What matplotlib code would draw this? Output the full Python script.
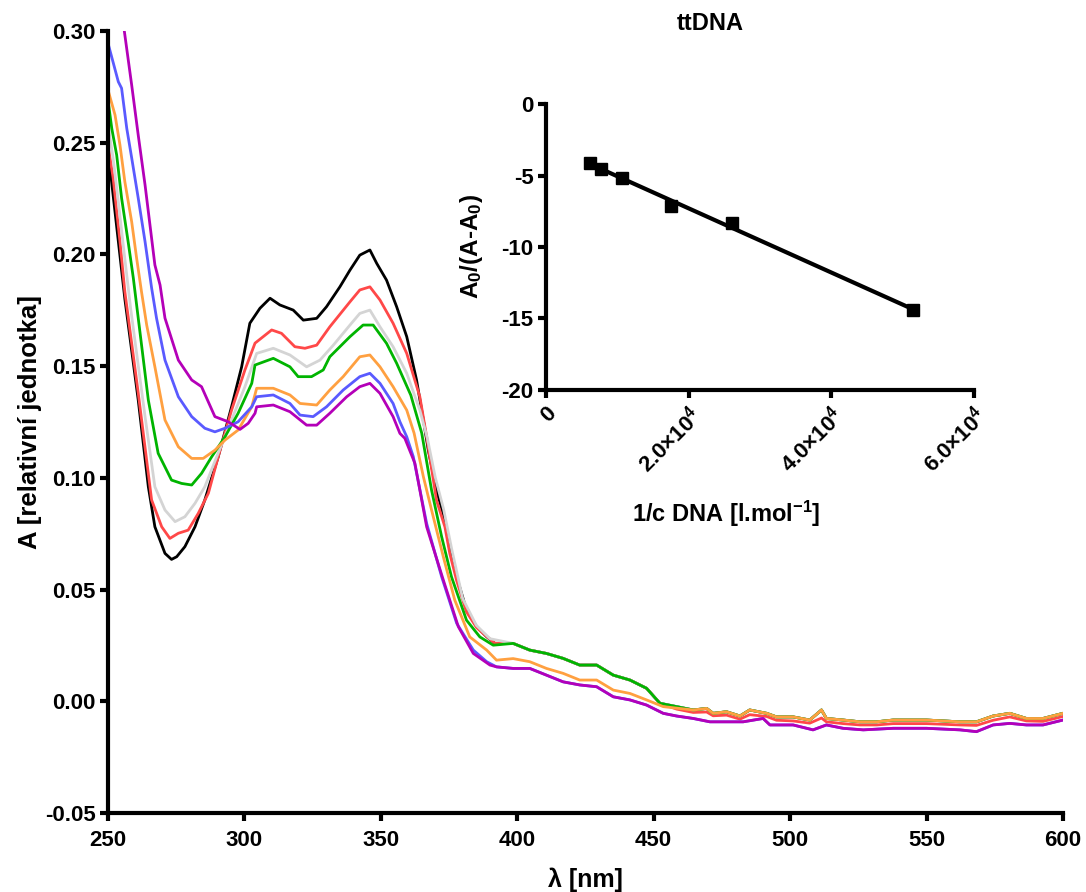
import numpy as np
import matplotlib
matplotlib.use("Agg")
import matplotlib.pyplot as plt

plt.rcParams['font.family'] = ['Liberation Sans', 'DejaVu Sans']
plt.rcParams['font.weight'] = 'bold'
plt.rcParams['axes.labelweight'] = 'bold'
plt.rcParams['axes.unicode_minus'] = False
plt.rcParams['mathtext.fontset'] = 'custom'
plt.rcParams['mathtext.rm'] = 'Liberation Sans:bold'
plt.rcParams['mathtext.it'] = 'Liberation Sans:bold'
plt.rcParams['mathtext.bf'] = 'Liberation Sans:bold'

# --- spectra ---
black_w = [250.0, 256.2, 261.1, 264.8, 267.2, 270.9, 273.3, 275.2, 278.2, 281.9, 285.5, 290.4,
           295.3, 299.0, 302.0, 305.7, 309.4, 313.0, 317.9, 321.6, 326.5, 330.1, 335.0, 338.7,
           342.3, 346.0, 348.5, 352.1, 355.8, 359.5, 363.1, 366.2, 367.4, 370.4, 373.5, 375.3,
           377.8, 381.4, 385.1, 388.8, 391.8]
black_a = [0.247, 0.180, 0.1348, 0.0960, 0.0781, 0.0662, 0.0635, 0.0647, 0.0692, 0.0781, 0.0901, 0.1094,
           0.1318, 0.1497, 0.1692, 0.1759, 0.1804, 0.1774, 0.1751, 0.1706, 0.1714, 0.1766, 0.1855, 0.1930,
           0.1997, 0.2020, 0.1960, 0.1885, 0.1766, 0.1632, 0.1438, 0.1214, 0.1124, 0.0945, 0.0811, 0.0677,
           0.0557, 0.0408, 0.0334, 0.0289, 0.0259]

red_w = [250.1, 251.9, 254.4, 256.2, 261.1, 266.0, 269.7, 272.7, 275.8, 279.4, 283.1, 286.8,
         290.4, 295.3, 300.2, 303.9, 310.0, 313.6, 318.5, 322.2, 326.5, 331.3, 338.7, 342.3,
         346.0, 349.7, 354.5, 359.5, 364.3, 366.8, 370.4, 373.5, 375.3, 377.8, 381.4, 385.1,
         388.8, 391.8]
red_a = [0.2482, 0.2342, 0.2057, 0.1833, 0.1380, 0.0901, 0.0781, 0.0729, 0.0752, 0.0766, 0.0841, 0.0931,
         0.1094, 0.1303, 0.1483, 0.1603, 0.1662, 0.1647, 0.1587, 0.1580, 0.1594, 0.1676, 0.1788, 0.1841,
         0.1855, 0.1796, 0.1692, 0.1557, 0.1363, 0.1184, 0.0900, 0.0780, 0.0660, 0.0540, 0.0400, 0.0330,
         0.0290, 0.0260]

gray_w = [250.1, 251.9, 253.8, 255.6, 258.3, 263.6, 267.2, 270.9, 274.6, 278.2, 281.9, 285.5,
          290.4, 295.3, 300.2, 304.5, 310.6, 316.7, 322.8, 327.7, 332.6, 338.7, 342.3, 346.0,
          349.7, 354.5, 359.5, 364.3, 367.0, 370.0, 373.0, 376.0, 380.0, 385.0, 390.0]
gray_a = [0.2572, 0.2430, 0.2236, 0.2042, 0.1760, 0.1274, 0.0960, 0.0856, 0.0804, 0.0826, 0.0886, 0.0960,
          0.1111, 0.1259, 0.1408, 0.1557, 0.1580, 0.1550, 0.1497, 0.1527, 0.1594, 0.1684, 0.1736, 0.1751,
          0.1676, 0.1587, 0.1468, 0.1303, 0.1180, 0.1000, 0.0860, 0.0680, 0.0460, 0.0340, 0.0280]

green_w = [250.1, 251.4, 253.2, 255.0, 257.4, 259.3, 261.1, 264.8, 268.4, 273.3, 277.0, 280.7,
           284.3, 288.0, 292.9, 297.7, 302.7, 303.9, 310.6, 316.7, 319.7, 324.6, 328.9, 331.3,
           338.7, 343.5, 347.2, 352.1, 355.8, 361.0, 365.0, 368.6, 372.3, 375.9, 381.4, 386.3,
           391.2]
green_a = [0.2684, 0.2564, 0.2445, 0.2252, 0.2057, 0.1894, 0.1715, 0.1348, 0.1110, 0.0990, 0.0975, 0.0968,
           0.1020, 0.1094, 0.1184, 0.1289, 0.1423, 0.1505, 0.1535, 0.1497, 0.1453, 0.1453, 0.1483, 0.1542,
           0.1632, 0.1684, 0.1684, 0.1602, 0.1513, 0.1370, 0.1200, 0.0945, 0.0736, 0.0557, 0.0363, 0.0288,
           0.0251]

orange_w = [250.1, 252.6, 254.4, 256.2, 258.7, 260.5, 262.3, 264.2, 267.2, 270.9, 275.8, 280.7,
            284.9, 289.2, 292.9, 297.7, 302.7, 304.5, 310.6, 316.7, 320.4, 326.5, 331.3, 336.2,
            342.3, 346.0, 349.7, 354.5, 359.5, 362.2, 365.6, 368.6, 372.9, 377.1, 382.6, 388.8,
            392.4, 398.5, 404.6, 410.7, 416.8, 422.9, 429.1, 435.2, 441.3, 447.4, 453.5]
orange_a = [0.2733, 0.2624, 0.2490, 0.2325, 0.2146, 0.1984, 0.1833, 0.1684, 0.1497, 0.1259, 0.1139, 0.1087,
            0.1087, 0.1124, 0.1169, 0.1214, 0.1318, 0.1401, 0.1401, 0.1371, 0.1333, 0.1326, 0.1393, 0.1453,
            0.1542, 0.1550, 0.1497, 0.1408, 0.1303, 0.1200, 0.1005, 0.0856, 0.0647, 0.0453, 0.0288, 0.0229,
            0.0184, 0.0191, 0.0177, 0.0147, 0.0125, 0.0095, 0.0095, 0.0050, 0.0035, 0.0006, -0.0024]

blue_w = [250.1, 253.8, 255.0, 256.9, 258.7, 261.1, 263.6, 266.0, 267.8, 270.9, 275.8, 280.7,
          285.5, 289.2, 292.9, 297.7, 302.7, 304.5, 310.6, 316.7, 320.4, 325.2, 330.1, 336.2,
          342.3, 346.0, 349.7, 354.5, 357.0, 359.5, 361.9, 366.8, 372.3, 377.8, 383.9, 388.8]
blue_a = [0.2942, 0.2773, 0.2744, 0.2564, 0.2432, 0.2252, 0.2057, 0.1850, 0.1715, 0.1527, 0.1363, 0.1274,
          0.1222, 0.1206, 0.1222, 0.1251, 0.1318, 0.1363, 0.1371, 0.1333, 0.1281, 0.1274, 0.1318, 0.1393,
          0.1453, 0.1468, 0.1423, 0.1333, 0.1251, 0.1184, 0.1095, 0.0796, 0.0557, 0.0349, 0.0229, 0.0177]

magenta_w = [250.0, 252.0, 256.0, 258.7, 261.1, 263.6, 265.4, 267.2, 269.1, 270.9, 271.5, 275.8,
             280.7, 284.3, 289.2, 294.1, 298.4, 301.4, 303.9, 304.5, 310.6, 316.7, 322.8, 326.5,
             331.3, 337.5, 342.3, 346.0, 349.7, 354.5, 357.0, 358.8, 362.5, 366.8, 372.9, 378.4,
             383.9, 390.0]
magenta_a = [0.355, 0.337, 0.300, 0.2758, 0.2534, 0.2311, 0.2132, 0.1953, 0.1863, 0.1715, 0.1692, 0.1527,
             0.1438, 0.1408, 0.1274, 0.1251, 0.1217, 0.1244, 0.1289, 0.1318, 0.1326, 0.1296, 0.1236, 0.1236,
             0.1289, 0.1363, 0.1408, 0.1423, 0.1378, 0.1274, 0.1199, 0.1177, 0.1065, 0.0781, 0.0543, 0.0334,
             0.0214, 0.0162]

# common tails where curves overlap
top_tail_w = [398.5, 404.6, 410.7, 416.8, 422.9, 429.1, 435.2, 441.3, 447.4, 452.3, 458.4, 464.5,
              469.4, 471.8, 476.7, 481.6, 485.2, 491.4, 495.0, 501.1, 507.2, 511.5, 513.3, 519.4,
              525.6, 531.7, 537.8, 550.0, 562.2, 568.3, 574.4, 580.5, 586.6, 592.7, 600.0]
top_tail_a = [0.0259, 0.0229, 0.0214, 0.0192, 0.0162, 0.0162, 0.0117, 0.0095, 0.0058, -0.0009, -0.0024, -0.0039,
              -0.0032, -0.0054, -0.0047, -0.0066, -0.0039, -0.0054, -0.0070, -0.0070, -0.0084, -0.0039, -0.0077, -0.0084,
              -0.0092, -0.0092, -0.0084, -0.0084, -0.0092, -0.0092, -0.0066, -0.0054, -0.0077, -0.0077, -0.0054]
red_tail_a = [0.0259, 0.0229, 0.0214, 0.0192, 0.0162, 0.0162, 0.0117, 0.0095, 0.0058, -0.0009, -0.0035, -0.0050,
              -0.0048, -0.0065, -0.0062, -0.0080, -0.0060, -0.0068, -0.0085, -0.0088, -0.0098, -0.0075, -0.0092, -0.0100,
              -0.0106, -0.0106, -0.0100, -0.0100, -0.0106, -0.0108, -0.0085, -0.0070, -0.0088, -0.0090, -0.0068]
low_tail_w = [392.4, 398.5, 404.6, 410.7, 416.8, 422.9, 429.1, 435.2, 441.3, 447.4, 453.5, 458.4,
              464.5, 470.6, 476.7, 482.8, 490.1, 492.6, 501.1, 508.4, 513.3, 519.4, 526.8, 537.8,
              550.0, 562.2, 568.3, 574.4, 580.5, 586.6, 592.7, 600.0]
low_tail_a = [0.0154, 0.0147, 0.0147, 0.0117, 0.0087, 0.0073, 0.0065, 0.0020, 0.0006, -0.0017, -0.0054, -0.0066,
              -0.0077, -0.0092, -0.0092, -0.0092, -0.0077, -0.0106, -0.0106, -0.0128, -0.0106, -0.0121, -0.0128, -0.0121,
              -0.0121, -0.0128, -0.0136, -0.0106, -0.0099, -0.0106, -0.0106, -0.0084]

# inset: double reciprocal plot
inv_c = [6100, 7700, 10700, 17500, 26000, 51500]
ratio = [-4.15, -4.52, -5.17, -7.11, -8.30, -14.43]

n_orange_skip = 11  # orange rejoins the top group after 458 nm
series = [
    ("black", black_w + top_tail_w, black_a + top_tail_a),
    ("#ff4848", red_w + top_tail_w, red_a + red_tail_a),
    ("#d4d4d4", gray_w + top_tail_w, gray_a + top_tail_a),
    ("#00b400", green_w + top_tail_w, green_a + top_tail_a),
    ("#ffa040", orange_w + top_tail_w[n_orange_skip:], orange_a + top_tail_a[n_orange_skip:]),
    ("#5a5aff", blue_w + low_tail_w, blue_a + low_tail_a),
    ("#b400b8", magenta_w + low_tail_w, magenta_a + low_tail_a),
]

fig = plt.figure(figsize=(10.86, 8.92), dpi=100)
ax = fig.add_axes([0.0994, 0.0886, 0.8794, 0.8766])
for color, w, a in series:
    ax.plot(w, a, color=color, linewidth=2.0)

ax.set_xlim(250, 600)
ax.set_ylim(-0.05, 0.30)
ax.set_xticks(np.arange(250, 601, 50))
ax.set_yticks(np.arange(-0.05, 0.301, 0.05))
ax.yaxis.set_major_formatter(matplotlib.ticker.FormatStrFormatter('%.2f'))
for s in ['top', 'right']:
    ax.spines[s].set_visible(False)
for s in ['left', 'bottom']:
    ax.spines[s].set_linewidth(3)
ax.tick_params(direction='out', length=6, width=3, labelsize=16, pad=3)
ax.tick_params(axis='x', pad=6)
ax.set_xlabel('λ [nm]', fontsize=18, labelpad=12)
ax.set_ylabel('A [relativní jednotka]', fontsize=18.5, labelpad=2)

# inset
ax2 = fig.add_axes([0.5028, 0.5628, 0.3941, 0.3206])
ax2.patch.set_alpha(0)
coef = np.polyfit(inv_c, ratio, 1)
xs = np.array([min(inv_c), max(inv_c)])
ax2.plot(xs, np.polyval(coef, xs), color='black', linewidth=3)
ax2.plot(inv_c, ratio, 's', color='black', markersize=9)
ax2.set_xlim(0, 60000)
ax2.set_ylim(-20, 0)
ax2.set_xticks([0, 20000, 40000, 60000])
ax2.set_xticklabels(['0', r'2.0$\times$10$^{4}$', r'4.0$\times$10$^{4}$', r'6.0$\times$10$^{4}$'],
                    rotation=45, ha='right', va='top', rotation_mode='anchor')
ax2.set_yticks([0, -5, -10, -15, -20])
for s in ['top', 'right']:
    ax2.spines[s].set_visible(False)
for s in ['left', 'bottom']:
    ax2.spines[s].set_linewidth(3)
ax2.tick_params(direction='out', length=6, width=3, labelsize=16, pad=3)
ax2.set_ylabel(r'A$_0$/(A-A$_0$)', fontsize=17.5, labelpad=12)
ax2.set_xlabel(r'1/c DNA [l.mol$^{-1}$]', fontsize=17)
ax2.xaxis.set_label_coords(0.42, -0.38)
fig.text(710 / 1086, 1 - 24 / 892, 'ttDNA', fontsize=17, ha='center', va='center')

fig.savefig('out.png', dpi=100)
